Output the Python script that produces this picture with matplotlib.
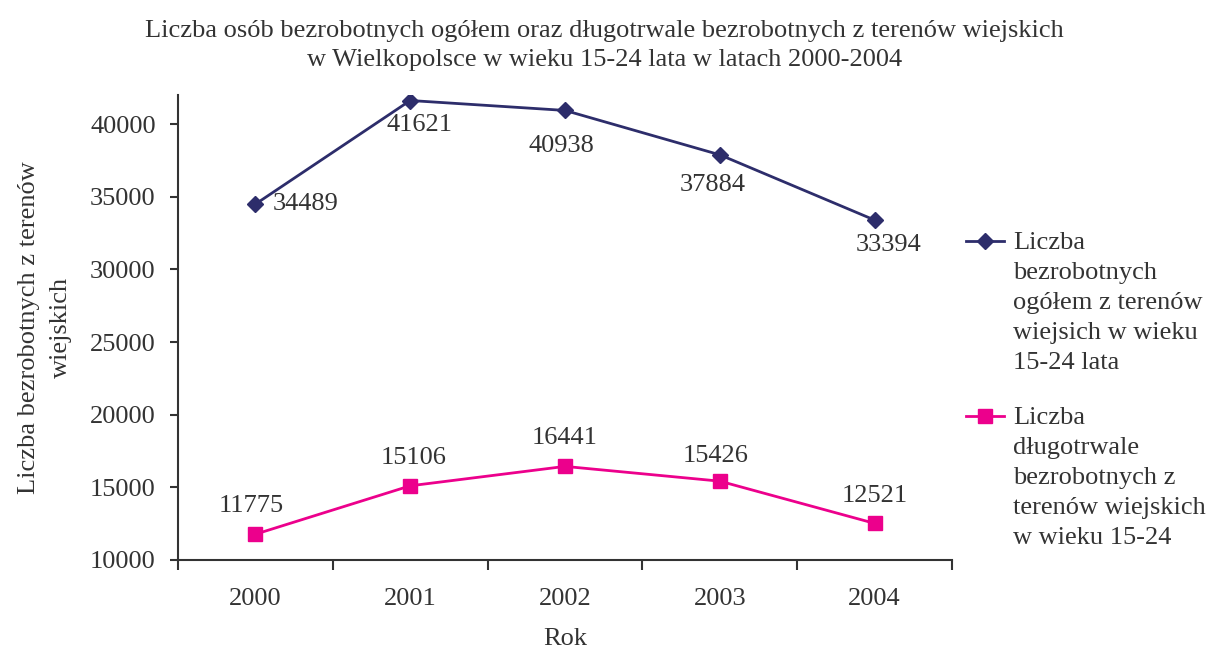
import matplotlib.pyplot as plt
from matplotlib.lines import Line2D

plt.rcParams["font.family"] = ["Liberation Serif", "DejaVu Serif"]

# ─────────────────────────────────────────────
# DATA
# ─────────────────────────────────────────────

years = ["2000", "2001", "2002", "2003", "2004"]
ogolem = [34489, 41621, 40938, 37884, 33394]
dlugotrwale = [11775, 15106, 16441, 15426, 12521]

label_ogolem = "Liczba\nbezrobotnych\nogółem z terenów\nwiejsich w wieku\n15-24 lata"
label_dlugo = "Liczba\ndługotrwale\nbezrobotnych z\nterenów wiejskich\nw wieku 15-24"

# label offsets in pixels (layout only)
off_ogolem = [(17, 0), (9, -24), (-4, -36), (-7, -30), (14, -25)]
off_dlugo = [(-4, 28), (3, 28), (0, 28), (-4, 25), (0, 27)]

BLUE = "#2d2d6b"
PINK = "#ec008c"
TXT = "#333333"
FS = 19

W, H = 1209, 648

# ─────────────────────────────────────────────
# PLOT
# ─────────────────────────────────────────────

fig = plt.figure(figsize=(W / 100, H / 100), dpi=100)
ax = fig.add_axes([178 / W, 1 - 560 / H, (952 - 178) / W, (560 - 95) / H])

x = range(len(years))
blue_style = dict(color=BLUE, lw=2, marker="D", ms=8)
pink_style = dict(color=PINK, lw=2, marker="s", ms=10)
ax.plot(x, ogolem, **blue_style)
ax.plot(x, dlugotrwale, **pink_style)

for i, v in enumerate(ogolem):
    ha = "left" if i == 0 else "center"
    ax.annotate(str(v), (i, v), xytext=off_ogolem[i], textcoords="offset pixels",
                ha=ha, va="center", fontsize=FS, color=TXT)
for i, v in enumerate(dlugotrwale):
    ax.annotate(str(v), (i, v), xytext=off_dlugo[i], textcoords="offset pixels",
                ha="center", va="center", fontsize=FS, color=TXT)

ax.set_xlim(-0.5, len(years) - 0.5)
ax.set_ylim(10000, 42000)
ax.set_yticks(range(10000, 42000, 5000))
ax.set_xticks(list(x))
ax.set_xticklabels(years)
ax.set_xticks([i - 0.5 for i in range(len(years) + 1)], minor=True)

ax.tick_params(axis="x", which="major", length=0, pad=20, labelsize=FS, labelcolor=TXT)
ax.tick_params(axis="x", which="minor", length=7, width=1.5, color=TXT, direction="out")
ax.tick_params(axis="y", length=6, width=1.5, color=TXT, labelsize=FS, labelcolor=TXT, pad=10)

for s in ["top", "right"]:
    ax.spines[s].set_visible(False)
for s in ["left", "bottom"]:
    ax.spines[s].set_color(TXT)
    ax.spines[s].set_linewidth(1.5)

ax.set_xlabel("Rok", fontsize=FS, color=TXT, labelpad=13)
ax.set_ylabel("Liczba bezrobotnych z terenów\nwiejskich", fontsize=FS, color=TXT,
              linespacing=1.6)
ax.yaxis.set_label_coords(-0.137, 0.5)

fig.suptitle("Liczba osób bezrobotnych ogółem oraz długotrwale bezrobotnych z terenów wiejskich\n"
             "w Wielkopolsce w wieku 15-24 lata w latach 2000-2004",
             fontsize=FS, color=TXT, y=0.969, linespacing=1.4)

# legend, drawn by hand so the key sits beside the first text line
for style, label, ytop in [(blue_style, label_ogolem, 241), (pink_style, label_dlugo, 416)]:
    yf = 1 - ytop / H
    fig.add_artist(Line2D([966 / W, 985 / W, 1004 / W], [yf, yf, yf],
                          markevery=[1], transform=fig.transFigure, **style))
    fig.text(1013 / W, yf + 9 / H, label, ha="left", va="top", fontsize=FS,
             color=TXT, linespacing=1.47)

plt.savefig("out.png")
